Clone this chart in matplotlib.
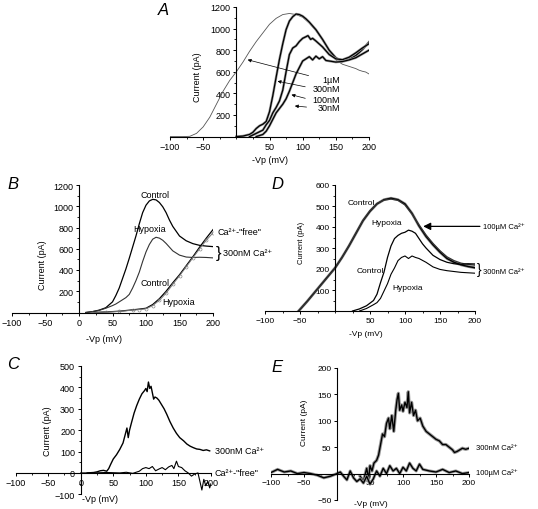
import matplotlib
matplotlib.use("Agg")
import matplotlib.pyplot as plt
from matplotlib.ticker import AutoMinorLocator

plt.rcParams['font.family'] = ['Liberation Sans', 'DejaVu Sans']
plt.rcParams['font.size'] = 6.5

# ---- panel A: different [Ca2+]
a_1um_x = [-100, -80, -70, -60, -50, -40, -30, -20, -10, 0, 10, 20, 30, 40, 50, 60, 70, 80,
           90, 100, 110, 120, 130, 140, 150, 160, 170, 180, 185, 190, 195, 200]
a_1um_y = [0, 0, 3, 30, 90, 180, 300, 420, 520, 600, 690, 790, 880, 960, 1040, 1095, 1130, 1140,
           1130, 1105, 1050, 980, 890, 790, 710, 670, 650, 630, 615, 605, 598, 580]
a_300_x = [0, 10, 20, 25, 30, 35, 40, 45, 50, 55, 60, 65, 70, 75, 80, 85, 90, 95, 100, 105, 110,
           115, 120, 125, 130, 140, 150, 155, 160, 170, 180, 190, 200]
a_300_y = [0, 5, 20, 40, 75, 100, 115, 140, 230, 380, 550, 715, 860, 990, 1070, 1110, 1135, 1130,
           1115, 1090, 1060, 1025, 990, 945, 900, 800, 730, 712, 705, 715, 750, 805, 875]
a_100_x = [20, 30, 40, 45, 50, 55, 60, 65, 70, 75, 80, 85, 90, 95, 100, 105, 108, 112, 115, 120,
           130, 140, 150, 160, 170, 180, 190, 200]
a_100_y = [0, 30, 60, 110, 150, 220, 270, 330, 430, 600, 760, 820, 840, 880, 910, 925, 935, 900,
           910, 885, 830, 760, 720, 712, 735, 775, 820, 860]
a_30_x = [30, 40, 45, 50, 55, 60, 65, 70, 75, 80, 85, 90, 95, 100, 105, 110, 115, 120, 125, 130,
          135, 140, 150, 160, 170, 180, 190, 200]
a_30_y = [0, 20, 50, 100, 160, 220, 260, 300, 350, 420, 500, 580, 640, 700, 720, 740, 710, 745,
          720, 740, 705, 700, 690, 695, 710, 730, 765, 800]
a_labels = ['1µM', '300nM', '100nM', '30nM']
a_label_y = [533, 441, 348, 274]
a_arrow_from = [(113, 558), (108, 456), (108, 348), (110, 271)]
a_arrow_to = [(13, 718), (58, 518), (79, 394), (84, 286)]

# ---- panel B: control / hypoxia, 300 nM and Ca-free
b_x = [10, 20, 30, 40, 50, 55, 60, 65, 70, 75, 80, 85, 90, 95, 100, 105, 110, 115, 120, 125,
       130, 135, 140, 150, 160, 170, 180, 190, 200]
b_ctrl_y = [0, 8, 22, 45, 100, 160, 230, 320, 410, 510, 615, 720, 835, 940, 1010, 1050, 1065,
            1060, 1035, 995, 940, 870, 810, 720, 675, 648, 632, 625, 620]
b_hyp_y = [0, 8, 20, 40, 65, 80, 100, 120, 140, 170, 230, 300, 380, 480, 570, 640, 690, 708, 700,
           680, 650, 615, 580, 540, 522, 518, 520, 518, 514]
b_free_x = [20, 40, 60, 80, 90, 100, 110, 120, 130, 140, 150, 160, 170, 180, 190, 200]
b_free_ctrl_y = [0, 5, 12, 25, 32, 40, 75, 130, 200, 280, 355, 440, 525, 615, 700, 780]
b_free_hyp_y = [0, 4, 10, 22, 28, 35, 65, 115, 182, 265, 345, 430, 515, 600, 680, 750]

# ---- panel D: control / hypoxia, 100 uM and 300 nM
d_100_x = [-52, -40, -30, -20, -10, 0, 10, 20, 30, 40, 50, 60, 70, 80, 90, 100, 110, 120, 130,
           140, 150, 160, 170, 180, 190, 200]
d_100c_y = [0, 45, 85, 125, 165, 205, 255, 310, 370, 430, 475, 510, 530, 537, 530, 510, 465, 405,
            355, 315, 280, 250, 232, 220, 212, 206]
d_100h_y = [0, 44, 84, 124, 164, 203, 254, 312, 372, 432, 478, 512, 528, 533, 527, 505, 462, 410,
            362, 322, 287, 258, 240, 228, 222, 218]
d_300c_x = [25, 35, 45, 55, 60, 65, 70, 75, 80, 85, 90, 95, 100, 105, 110, 115, 120, 125, 130,
            140, 150, 160, 170, 180, 190, 200]
d_300c_y = [0, 10, 25, 50, 80, 135, 185, 255, 310, 345, 360, 370, 375, 385, 380, 370, 345, 320,
            300, 265, 245, 232, 225, 222, 225, 224]
d_300h_x = [35, 45, 55, 60, 65, 70, 75, 80, 85, 90, 95, 100, 105, 110, 115, 120, 130, 140, 150,
            160, 170, 180, 190, 200]
d_300h_y = [0, 12, 30, 40, 60, 95, 130, 175, 205, 240, 255, 262, 250, 262, 255, 250, 232, 210,
            198, 192, 188, 184, 182, 180]

# ---- panel C: difference currents
c_300_x = [10, 20, 25, 30, 35, 40, 43, 46, 50, 55, 60, 65, 68, 71, 73, 75, 78, 82, 86, 90, 94,
           98, 100, 102, 104, 106, 108, 110, 112, 114, 117, 120, 124, 128, 132, 137, 142, 147,
           152, 158, 163, 168, 173, 178, 183, 188, 193, 198]
c_300_y = [0, 2, 5, 10, 12, 8, 20, 40, 65, 85, 110, 140, 175, 210, 165, 200, 235, 280, 315, 345,
           370, 385, 395, 380, 425, 395, 405, 375, 345, 355, 350, 340, 320, 300, 275, 240, 210,
           185, 165, 150, 135, 125, 118, 112, 110, 105, 108, 103]
c_free_x = [0, 20, 40, 60, 70, 80, 90, 95, 100, 105, 110, 115, 120, 125, 130, 135, 140, 143, 147,
            150, 155, 160, 165, 170, 175, 180, 183, 186, 189, 192, 195, 198, 200]
c_free_y = [0, 0, 2, 0, 3, -2, 8, 20, 25, 20, 30, 10, 18, 25, 15, 28, 35, 20, 55, 30, 25, 10, 0,
            -15, -5, 0, -40, -80, -30, -60, -40, -70, -50]

# ---- panel E: difference currents
e_300_x = [35, 40, 45, 48, 50, 53, 56, 60, 63, 66, 69, 72, 75, 78, 80, 83, 86, 89, 91, 93, 95,
           98, 100, 103, 106, 108, 110, 113, 116, 119, 122, 126, 130, 135, 140, 145, 150, 155,
           160, 165, 170, 175, 178, 182, 186, 190, 195, 200]
e_300_y = [-5, -15, 10, -10, 15, 5, 20, 25, 35, 55, 75, 70, 95, 105, 85, 110, 80, 120, 140, 152,
           120, 130, 118, 135, 125, 155, 115, 135, 110, 120, 100, 105, 90, 80, 75, 70, 65, 62, 55,
           55, 50, 45, 40, 42, 45, 48, 46, 48]
e_100_x = [-100, -90, -80, -70, -60, -50, -40, -30, -20, -10, 0, 5, 10, 15, 20, 25, 30, 35, 40,
           45, 50, 55, 60, 65, 70, 75, 80, 85, 90, 95, 100, 105, 110, 115, 120, 125, 130, 140,
           150, 160, 170, 180, 190, 200]
e_100_y = [2, 8, 3, 5, 0, 2, 0, -3, -8, -5, 0, 3, -5, -12, 5, -8, -15, -10, -18, -5, -20, -10, 5,
           -5, 10, 0, 15, 5, 10, 0, 12, 5, 20, 10, 5, 18, 8, 5, 3, 8, 2, 5, 0, 2]

W, H = 538, 510
fig = plt.figure(figsize=(W / 100, H / 100), dpi=100)


def add_axes(l, r, t, b):
    return fig.add_axes([l / W, 1 - b / H, (r - l) / W, (b - t) / H])


def setup(ax, ylim, xticks, yticks, fs=6.5):
    ax.set_xlim(-100, 200)
    ax.set_ylim(*ylim)
    ax.spines['left'].set_position(('data', 0))
    ax.spines['bottom'].set_position(('data', 0))
    ax.spines['top'].set_visible(False)
    ax.spines['right'].set_visible(False)
    for s in ('left', 'bottom'):
        ax.spines[s].set_linewidth(0.8)
    ax.set_xticks(xticks)
    ax.set_yticks(yticks)
    ax.xaxis.set_minor_locator(AutoMinorLocator(2))
    ax.yaxis.set_minor_locator(AutoMinorLocator(2))
    ax.tick_params(which='major', length=2.5, width=0.7, labelsize=fs, pad=1.5)
    ax.tick_params(which='minor', length=1.3, width=0.6)
    ax.patch.set_visible(False)


# A
axA = add_axes(170, 369, 8, 137.6)
setup(axA, (0, 1200), [-100, -50, 50, 100, 150, 200], [200, 400, 600, 800, 1000, 1200])
axA.plot(a_1um_x, a_1um_y, color='#555555', lw=0.6)
for xs, ys in [(a_300_x, a_300_y), (a_100_x, a_100_y), (a_30_x, a_30_y)]:
    axA.plot(xs, ys, color='#999999', lw=1.8)
    axA.plot(xs, ys, color='k', lw=0.9)
for lab, ly, p0, p1 in zip(a_labels, a_label_y, a_arrow_from, a_arrow_to):
    axA.text(156, ly, lab, ha='right', va='center', fontsize=6.5)
    axA.annotate('', xy=p1, xytext=p0,
                 arrowprops=dict(arrowstyle='-|>', mutation_scale=5, lw=0.5, color='k'))
axA.set_xlabel('-Vp (mV)')
axA.set_ylabel('Current (pA)')
axA.xaxis.set_label_coords(0.5, -0.14)
axA.yaxis.set_label_coords(0.16, 0.47)

# B
axB = add_axes(12, 213, 186, 313.5)
setup(axB, (0, 1200), [-100, -50, 0, 50, 100, 150, 200], [200, 400, 600, 800, 1000, 1200])
axB.plot(b_x, b_ctrl_y, color='k', lw=0.9)
axB.plot(b_x, b_hyp_y, color='#333333', lw=0.8)
axB.plot(b_free_x, b_free_ctrl_y, color='k', lw=0.9)
axB.plot(b_free_x, b_free_hyp_y, color='#777777', lw=0.7, marker='o', ms=2.2,
         mfc='none', mew=0.4)
axB.text(113, 1115, 'Control', ha='center', va='center')
axB.text(106, 786, 'Hypoxia', ha='center', va='center')
axB.text(113, 284, 'Control', ha='center', va='center')
axB.text(148, 99, 'Hypoxia', ha='center', va='center')
axB.text(207, 758, 'Ca²⁺-"free"', ha='left', va='center', clip_on=False)
axB.text(204, 565, '}', ha='left', va='center', fontsize=12, clip_on=False)
axB.text(215, 560, '300nM Ca²⁺', ha='left', va='center', clip_on=False)
axB.set_xlabel('-Vp (mV)')
axB.set_ylabel('Current (pA)')
axB.xaxis.set_label_coords(0.46, -0.17)
axB.yaxis.set_label_coords(0.175, 0.38)

# D
axD = add_axes(265, 475, 186, 312)
setup(axD, (0, 600), [-100, -50, 50, 100, 150, 200], [100, 200, 300, 400, 500, 600], fs=6)
axD.plot(d_100_x, d_100c_y, color='#888888', lw=2.0)
axD.plot(d_100_x, d_100c_y, color='k', lw=1.0)
axD.plot(d_100_x, d_100h_y, color='#333333', lw=0.9)
axD.plot(d_300c_x, d_300c_y, color='k', lw=0.9)
axD.plot(d_300h_x, d_300h_y, color='k', lw=0.8)
axD.text(38, 517, 'Control', ha='center', va='center', fontsize=6)
axD.text(74, 422, 'Hypoxia', ha='center', va='center', fontsize=6)
axD.text(50, 192, 'Control', ha='center', va='center', fontsize=6)
axD.text(104, 114, 'Hypoxia', ha='center', va='center', fontsize=6)
axD.annotate('', xy=(122, 403), xytext=(211, 403),
             arrowprops=dict(arrowstyle='-|>', mutation_scale=11, lw=0.9, color='k'),
             annotation_clip=False)
axD.text(211, 403, '100µM Ca²⁺', ha='left', va='center', fontsize=5.5, clip_on=False)
axD.text(202, 200, '}', ha='left', va='center', fontsize=10, clip_on=False)
axD.text(211, 186, '300nM Ca²⁺', ha='left', va='center', fontsize=5.5, clip_on=False)
axD.set_xlabel('-Vp (mV)', fontsize=6)
axD.set_ylabel('Current (pA)', fontsize=5.5)
axD.xaxis.set_label_coords(0.48, -0.15)
axD.yaxis.set_label_coords(0.19, 0.55)

# C
axC = add_axes(15.5, 211, 367, 495.3)
setup(axC, (-100, 500), [-100, -50, 0, 50, 100, 150, 200], [-100, 0, 100, 200, 300, 400, 500])
axC.plot(c_300_x, c_300_y, color='k', lw=1.0)
axC.plot(c_free_x, c_free_y, color='k', lw=0.8)
axC.text(206, 105, '300nM Ca²⁺', ha='left', va='center', clip_on=False)
axC.text(206, 3, 'Ca²⁺-"free"', ha='left', va='center', clip_on=False)
axC.set_xlabel('-Vp (mV)')
axC.set_ylabel('Current (pA)')
axC.xaxis.set_label_coords(0.43, 0.0)
axC.yaxis.set_label_coords(0.185, 0.5)

# E
axE = add_axes(271, 469, 369, 501)
setup(axE, (-50, 200), [-100, -50, 50, 100, 150, 200], [-50, 50, 100, 150, 200], fs=6)
axE.plot(e_300_x, e_300_y, color='#999999', lw=2.4)
axE.plot(e_300_x, e_300_y, color='k', lw=1.0)
axE.plot(e_100_x, e_100_y, color='#999999', lw=2.2)
axE.plot(e_100_x, e_100_y, color='k', lw=1.0)
axE.text(210, 50, '300nM Ca²⁺', ha='left', va='center', fontsize=5.5, clip_on=False)
axE.text(210, 2, '100µM Ca²⁺', ha='left', va='center', fontsize=5.5, clip_on=False)
axE.set_xlabel('-Vp (mV)', fontsize=6)
axE.set_ylabel('Current (pA)', fontsize=6)
axE.xaxis.set_label_coords(0.505, 0.0)
axE.yaxis.set_label_coords(0.187, 0.59)

# panel letters
for lab, lx, ly in [('A', 158, 3), ('B', 7, 177), ('D', 271, 177), ('C', 7, 357), ('E', 271, 360)]:
    fig.text(lx / W, 1 - ly / H, lab, ha='left', va='top', fontsize=12, style='italic')

fig.savefig('out.png', dpi=100)
